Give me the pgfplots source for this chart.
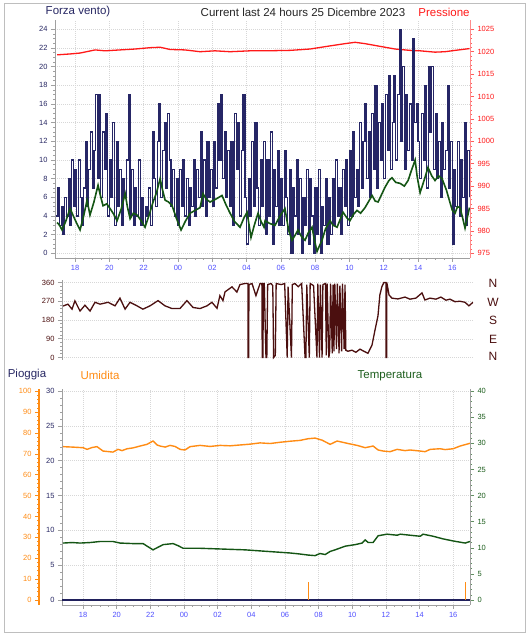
\documentclass[border=0pt]{standalone}
\usepackage{pgfplots}
\pgfplotsset{compat=1.18}
\usepackage{fontspec}
\setmainfont{Liberation Sans}
\definecolor{navyc}{RGB}{32,32,92}
\definecolor{navyw}{RGB}{38,38,102}
\definecolor{greenc}{RGB}{20,85,20}
\definecolor{redc}{RGB}{255,25,25}
\definecolor{maroonc}{RGB}{75,15,15}
\definecolor{orangec}{RGB}{255,140,20}
\definecolor{tickblue}{RGB}{80,80,255}
\definecolor{axgray}{RGB}{160,160,160}
\definecolor{gridc}{RGB}{215,215,215}
\definecolor{labnavy}{RGB}{40,40,100}
\definecolor{tempg}{RGB}{30,95,30}
\definecolor{framec}{RGB}{190,190,190}
\pgfplotsset{
  base/.style={
    scale only axis,
    anchor=south west,
    tick align=outside,
    /pgf/number format/assume math mode=true,
    /pgf/number format/1000 sep={},
    scaled y ticks=false,
    ticklabel style={font=\fontsize{7.5}{8}\selectfont},
    every tick/.style={axgray, line width=0.5pt},
    major tick length=4pt,
    minor tick length=2pt,
    axis line style={axgray, line width=0.8pt},
  },
  mygrid/.style={major grid style={gridc, dash pattern=on 1pt off 1pt, line width=0.5pt}},
}
\begin{document}
\begin{tikzpicture}
\fill[white] (0pt,0pt) rectangle (530pt,640pt);
\draw[framec, line width=1pt] (4pt,7pt) rectangle (525pt,636pt);

% ---------------- TOP PANEL ----------------
\begin{axis}[base, mygrid, at={(55pt,382pt)}, width=415pt, height=238pt,
  xmin=16.83, xmax=41.03, ymin=-0.5, ymax=25,
  axis x line*=bottom, axis y line*=left,
  xtick={18,20,...,40}, xticklabels={18,20,22,00,02,04,06,08,10,12,14,16},
  minor x tick num=3,
  ytick={0,2,...,24}, minor y tick num=3,
  xticklabel style={tickblue}, yticklabel style={labnavy},
  grid=major]
\end{axis}
\begin{axis}[base, at={(55pt,382pt)}, width=415pt, height=238pt,
  xmin=16.83, xmax=41.03, ymin=973.96, ymax=1027.08,
  hide x axis, axis y line*=right,
  ytick={975,980,...,1025}, minor y tick num=4,
  yticklabel style={redc}, every tick/.style={redc!70, line width=0.5pt},
  y axis line style={redc!50}]
\addplot[redc, line width=1.3pt] coordinates {
(16.95,1019.3)(17.71,1019.5)(18.29,1019.7)(19.17,1020.4)(19.75,1020.2)(20.62,1020.4)
(21.5,1020.6)(22.37,1020.9)(22.96,1021.0)(23.54,1020.5)(24.41,1020.4)(25.29,1020.0)
(26.16,1020.2)(27.04,1020.0)(28.2,1020.2)(29.08,1020.2)(30.54,1020.3)(31.7,1020.6)
(32.87,1021.3)(33.74,1021.8)(34.33,1022.1)(34.91,1021.8)(35.78,1021.2)(36.66,1020.6)
(37.53,1020.3)(38.12,1020.2)(38.99,1019.9)(39.57,1020.0)(40.16,1020.3)(41.0,1020.7)};
\end{axis}
\begin{axis}[base, at={(55pt,382pt)}, width=415pt, height=238pt,
  xmin=16.83, xmax=41.03, ymin=-0.5, ymax=25, hide axis]
\addplot[navyw, line width=1.35pt, const plot] coordinates {
(16.9,4)(17.0,7)(17.1,3)(17.2,5)(17.3,2)(17.4,6)(17.5,4)(17.6,8)(17.7,3)(17.8,10)(17.9,5)
(18.0,9)(18.1,4)(18.2,10)(18.3,6)(18.4,3)(18.5,7)(18.6,12)(18.7,5)(18.8,9)(18.9,13)
(19.0,7)(19.1,11)(19.2,17)(19.3,8)(19.4,17)(19.5,6)(19.6,13)(19.7,9)(19.8,15)(19.9,4)
(20.0,10)(20.1,6)(20.2,14)(20.3,3)(20.4,12)(20.5,5)(20.6,9)(20.7,3)(20.8,8)(20.9,6)
(21.0,10)(21.1,17)(21.2,4)(21.3,9)(21.4,3)(21.5,7)(21.6,4)(21.7,10)(21.8,3)(21.9,6)
(22.0,3)(22.1,5)(22.2,4)(22.3,7)(22.4,3)(22.5,13)(22.6,8)(22.7,5)(22.8,12)(22.9,16)
(23.0,6)(23.1,11)(23.2,14)(23.3,7)(23.4,15)(23.5,10)(23.6,5)(23.7,9)(23.8,4)(23.9,8)
(24.0,3)(24.1,9)(24.2,5)(24.3,10)(24.4,4)(24.5,8)(24.6,3)(24.7,7)(24.8,5)(24.9,10)
(25.0,4)(25.1,9)(25.2,6)(25.3,13)(25.4,5)(25.5,10)(25.6,4)(25.7,12)(25.8,6)(25.9,9)
(26.0,5)(26.1,12)(26.2,7)(26.3,16)(26.4,10)(26.5,17)(26.6,8)(26.7,13)(26.8,6)(26.9,11)
(27.0,5)(27.1,12)(27.2,3)(27.3,15)(27.4,9)(27.5,14)(27.6,4)(27.7,11)(27.8,17)(27.9,6)
(28.0,1)(28.1,8)(28.2,4)(28.3,12)(28.4,5)(28.5,14)(28.6,7)(28.7,3)(28.8,10)(28.9,5)
(29.0,12)(29.1,2)(29.2,10)(29.3,4)(29.4,13)(29.5,1)(29.6,9)(29.7,5)(29.8,11)(29.9,3)
(30.0,8)(30.1,3)(30.2,11)(30.3,6)(30.4,2)(30.5,9)(30.6,0)(30.7,7)(30.8,4)(30.9,10)
(31.0,2)(31.1,8)(31.2,0)(31.3,6)(31.4,3)(31.5,9)(31.6,1)(31.7,8)(31.8,4)(31.9,0)
(32.0,7)(32.1,2)(32.2,9)(32.3,0)(32.4,5)(32.5,3)(32.6,8)(32.7,1)(32.8,6)(32.9,2)
(33.0,8)(33.1,3)(33.2,10)(33.3,4)(33.4,7)(33.5,2)(33.6,9)(33.7,5)(33.8,10)(33.9,3)
(34.0,11)(34.1,4)(34.2,13)(34.3,6)(34.4,9)(34.5,5)(34.6,14)(34.7,7)(34.8,12)(34.9,16)
(35.0,8)(35.1,13)(35.2,6)(35.3,15)(35.4,9)(35.5,18)(35.6,7)(35.7,14)(35.8,10)(35.9,16)
(36.0,8)(36.1,17)(36.2,11)(36.3,19)(36.4,9)(36.5,14)(36.6,19)(36.7,10)(36.8,17)(36.9,24)
(37.0,12)(37.1,20)(37.2,9)(37.3,17)(37.4,11)(37.5,16)(37.6,10)(37.7,23)(37.8,14)(37.9,16)
(38.0,12)(38.1,8)(38.2,15)(38.3,10)(38.4,18)(38.5,7)(38.6,20)(38.7,13)(38.8,20)(38.9,9)
(39.0,15)(39.1,8)(39.2,12)(39.3,6)(39.4,14)(39.5,9)(39.6,11)(39.7,18)(39.8,7)(39.9,12)
(40.0,1)(40.1,9)(40.2,5)(40.3,12)(40.4,4)(40.5,10)(40.6,6)(40.7,14)(40.8,3)(40.9,11)
(41.0,6)};
\addplot[greenc, line width=1.6pt] coordinates {
(16.95,3.3)(17.1,3.0)(17.24,2.5)(17.45,3.4)(17.71,4.8)(17.9,4.0)(18.1,3.2)(18.29,2.5)
(18.5,4.0)(18.70,5.7)(18.87,4.1)(19.1,5.5)(19.34,7.3)(19.45,6.4)(19.63,5.1)(19.85,5.3)
(20.04,4.8)(20.25,4.2)(20.45,3.5)(20.7,4.8)(20.92,6.4)(21.05,5.0)(21.21,3.7)(21.4,4.3)
(21.62,4.1)(21.85,3.5)(22.08,2.8)(22.3,4.0)(22.55,5.5)(22.75,6.5)(22.96,8.0)(23.1,6.8)
(23.25,5.7)(23.45,5.5)(23.66,5.1)(23.9,3.8)(24.18,2.5)(24.45,3.5)(24.71,4.3)(25.0,4.6)
(25.29,4.9)(25.46,6.4)(25.65,5.8)(25.87,5.5)(26.2,5.8)(26.57,6.2)(26.8,5.2)(27.04,4.3)
(27.3,3.4)(27.62,2.8)(27.85,3.8)(28.03,4.4)(28.15,3.0)(28.26,1.7)(28.45,3.0)(28.67,4.3)
(28.85,3.4)(29.02,2.8)(29.08,3.5)(29.35,3.2)(29.66,3.0)(29.95,4.0)(30.24,4.8)(30.45,2.5)
(30.65,1.4)(30.85,2.0)(31.0,2.5)(31.2,1.8)(31.41,1.4)(31.6,2.2)(31.82,2.8)(31.95,1.5)
(32.11,0.2)(32.25,0.8)(32.40,1.4)(32.6,2.6)(32.87,3.5)(33.05,3.0)(33.28,2.8)(33.45,3.6)
(33.63,4.4)(33.85,3.8)(34.03,3.5)(34.25,4.2)(34.44,4.6)(34.65,4.3)(34.91,4.9)(35.1,5.5)
(35.32,6.2)(35.5,5.6)(35.67,5.5)(35.9,6.4)(36.08,7.1)(36.3,7.8)(36.48,8.1)(36.7,7.6)
(36.95,7.5)(37.2,7.2)(37.42,7.8)(37.6,8.8)(37.83,10.0)(37.95,8.2)(38.12,6.5)(38.35,7.8)
(38.58,9.2)(38.8,8.3)(38.99,7.8)(39.2,8.3)(39.40,8.0)(39.65,6.8)(39.87,5.4)(40.0,4.6)
(40.16,4.3)(40.3,5.0)(40.45,4.9)(40.6,3.8)(40.74,2.7)(40.87,3.8)(41.0,4.9)};
\end{axis}

% ---------------- MIDDLE PANEL ----------------
\begin{axis}[base, at={(62pt,280pt)}, width=411pt, height=80pt,
  xmin=17.0, xmax=41.18, ymin=-12, ymax=372,
  hide x axis, axis y line*=left,
  ytick={0,90,...,360}, minor y tick num=4,
  yticklabel style={maroonc},
  ymajorgrids, major grid style={gridc, dash pattern=on 1pt off 1pt}]
\addplot[maroonc, line width=1.3pt] coordinates {
(17.06,247)(17.35,256)(17.59,232)(17.76,272)(18.06,223)(18.35,251)(18.65,223)(18.94,265)
(19.24,256)(19.71,265)(20.12,248)(20.41,285)(20.71,232)(21.0,265)(21.41,248)(21.76,232)
(22.18,248)(22.65,273)(23.06,248)(23.47,235)(23.94,235)(24.35,273)(24.71,240)(25.12,235)
(25.53,248)(25.82,265)(26.12,236)(26.29,297)(26.47,273)(26.59,315)(27.0,339)(27.29,314)
(27.47,350)(27.76,355)(27.94,355)(27.95,0)(27.98,0)(28.0,350)(28.18,355)(28.41,297)
(28.65,355)(28.76,355)(28.78,0)(28.82,0)(28.85,355)(28.9,355)(29.0,0)(29.05,0)(29.1,350)
(29.3,355)(29.4,345)(29.45,0)(29.55,10)(29.6,355)(29.9,350)(30.1,355)(30.25,0)(30.3,340)
(30.5,0)(30.55,350)(30.7,355)(30.9,340)(31.1,355)(31.3,0)(31.35,0)(31.4,350)(31.55,0)
(31.6,355)(31.8,345)(32.0,0)(32.05,355)(32.15,0)(32.2,350)(32.3,0)(32.35,350)(32.5,355)
(32.55,10)(32.6,355)(32.7,0)(32.75,30)(32.8,355)(32.9,20)(32.95,350)(33.0,30)(33.05,355)
(33.15,40)(33.2,355)(33.3,20)(33.35,345)(33.45,30)(33.5,355)(33.6,40)(33.65,350)(33.7,35)
(33.82,30)(34.06,35)(34.29,25)(34.53,40)(34.76,30)(35.0,20)(35.24,60)(35.41,130)(35.59,200)
(35.7,300)(35.82,340)(35.94,360)(36.06,360)(36.07,0)(36.1,0)(36.11,360)(36.24,300)(36.41,285)
(36.76,281)(37.18,290)(37.47,280)(37.82,285)(38.18,310)(38.35,276)(38.65,285)(39.0,280)
(39.29,290)(39.59,275)(39.82,280)(40.12,268)(40.41,270)(40.71,265)(40.94,248)(41.18,265)};
\end{axis}

% ---------------- BOTTOM PANEL ----------------
\begin{axis}[base, mygrid, at={(62pt,35pt)}, width=408pt, height=216pt,
  xmin=16.75, xmax=41.0, ymin=-0.72, ymax=30.3,
  axis x line*=bottom, axis y line*=left,
  xtick={18,20,...,40}, xticklabels={18,20,22,00,02,04,06,08,10,12,14,16},
  minor x tick num=3,
  ytick={0,5,...,30}, minor y tick num=4,
  xticklabel style={tickblue}, yticklabel style={labnavy},
  grid=major]
\addplot[navyc, line width=2.2pt] coordinates {(16.75,0)(20,0)(24,0)(28,0)(32,0)(36,0)(41.0,0)};
\end{axis}
\begin{axis}[base, at={(62pt,35pt)}, width=408pt, height=216pt,
  xmin=16.75, xmax=41.0, ymin=-2.4, ymax=101,
  hide x axis, axis y line*=left,
  y axis line style={orangec, line width=2pt, xshift=-23pt},
  every tick/.style={orangec, line width=0.5pt, xshift=-23pt},
  yticklabel style={orangec, xshift=-23pt},
  ytick={0,10,...,100}, minor y tick num=4]
\addplot[orangec, line width=1.4pt] coordinates {
(16.81,73.4)(17.35,73.2)(18.0,72.9)(18.24,72.1)(18.54,73.0)(18.83,73.4)(19.19,71.3)(19.78,70.8)
(20.08,72.1)(20.32,71.5)(20.62,72.4)(20.97,72.8)(21.39,73.7)(21.8,74.5)(22.16,76.1)(22.4,74.2)
(22.58,73.7)(22.88,73.2)(23.17,74.0)(23.47,73.5)(23.77,72.1)(24.06,71.8)(24.36,73.4)(24.96,74.0)
(25.55,73.5)(26.15,74.0)(26.74,73.8)(27.33,74.2)(27.93,74.6)(28.52,75.2)(29.12,74.9)(29.71,75.5)
(30.31,76.0)(30.9,76.4)(31.38,77.2)(31.79,77.5)(32.21,76.5)(32.69,74.5)(33.1,76.1)(33.7,75.0)
(34.29,74.0)(34.77,72.9)(35.24,73.7)(35.54,71.8)(35.84,71.3)(36.25,71.0)(36.67,72.1)(37.14,71.5)
(37.44,71.8)(38.04,71.3)(38.33,71.0)(38.63,72.1)(39.22,72.4)(39.52,72.0)(40.0,72.4)(40.41,73.7)
(41.0,75.0)};
\addplot[orangec, line width=0.8pt, ycomb] coordinates {(31.38,8.7)(40.71,8.7)};
\end{axis}
\begin{axis}[base, at={(62pt,35pt)}, width=408pt, height=216pt,
  xmin=16.75, xmax=41.0, ymin=-0.96, ymax=40.4,
  hide x axis, axis y line*=right,
  ytick={0,5,...,40}, minor y tick num=4,
  yticklabel style={tempg}, every tick/.style={tempg!70, line width=0.5pt}]
\addplot[greenc, line width=1.4pt] coordinates {
(16.81,10.9)(17.35,11.0)(17.82,10.9)(18.42,11.0)(19.01,11.2)(19.78,11.2)(20.2,10.9)(20.97,10.8)
(21.57,10.8)(21.86,10.2)(22.16,9.6)(22.46,10.1)(22.76,10.6)(23.35,10.8)(23.65,10.4)(23.95,9.9)
(24.54,9.9)(24.96,9.9)(25.85,9.8)(26.74,9.7)(27.63,9.6)(28.52,9.4)(29.41,9.2)(30.31,9.0)
(30.9,8.8)(31.38,8.6)(31.79,8.5)(32.09,8.9)(32.39,8.7)(32.69,9.3)(32.98,9.6)(33.58,10.3)
(34.17,10.6)(34.59,10.9)(34.77,11.5)(34.95,11.0)(35.24,11.0)(35.54,12.3)(36.07,12.6)(36.67,12.4)
(36.85,12.6)(37.44,12.4)(38.04,12.2)(38.21,12.6)(38.81,12.2)(39.4,11.7)(40.0,11.3)(40.71,10.9)
(41.0,11.2)};
\end{axis}

% ---------------- TEXTS ----------------
\node[labnavy, font=\fontsize{11.5}{12}\selectfont] at (78pt,628pt) {Forza vento)};
\node[black!85, font=\fontsize{11.5}{12}\selectfont] at (303pt,628pt) {Current last 24 hours 25 Dicembre 2023};
\node[redc, font=\fontsize{11.5}{12}\selectfont] at (444pt,628pt) {Pressione};
\begin{scope}[maroonc, font=\fontsize{12}{13}\selectfont]
\node at (493pt,357pt) {N};
\node at (493pt,338pt) {W};
\node at (493pt,320pt) {S};
\node at (493pt,301pt) {E};
\node at (493pt,284pt) {N};
\end{scope}
\node[labnavy, font=\fontsize{11.5}{12}\selectfont] at (27pt,265pt) {Pioggia};
\node[orangec, font=\fontsize{11.5}{12}\selectfont] at (100pt,265pt) {Umidita};
\node[tempg, font=\fontsize{11.5}{12}\selectfont] at (390pt,264pt) {Temperatura};
\end{tikzpicture}
\end{document}
